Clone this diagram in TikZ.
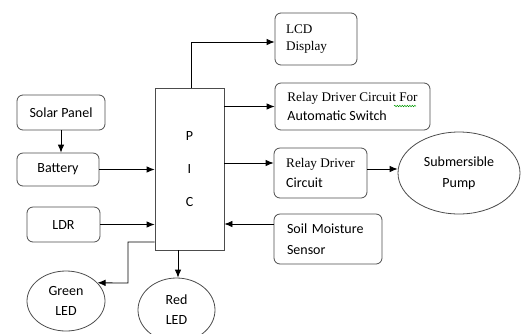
\documentclass[tikz,border=0pt]{standalone}
\usepackage{fontspec}
\setmainfont{Carlito}
\newfontfamily\serifx{Liberation Serif}
\newcommand\sr{\serifx\fontsize{13.2}{20}\selectfont}
\usetikzlibrary{arrows.meta,shapes.geometric,decorations.pathmorphing}
\begin{document}
\begin{tikzpicture}[x=1pt,y=-1pt,
  every node/.style={font=\fontsize{14}{20}\selectfont},
  line/.style={draw=black, line width=0.8pt},
  arr/.style={line, -{Latex[length=8pt,width=6.5pt]}},
  rbox/.style={draw=black!70, line width=0.8pt, rounded corners=6pt, inner ysep=0pt},
  sqbox/.style={draw=black!70, line width=0.8pt, inner sep=0pt},
  oval/.style={draw=black!70, line width=0.8pt, ellipse, inner sep=0pt, align=center},
]
\useasboundingbox (0,0) rectangle (521,333);

% left blocks
\node[rbox, minimum width=88pt, minimum height=35pt, align=center] (solar) at (61,112.5) {Solar Panel};
\node[rbox, minimum width=82pt, minimum height=33pt] (battery) at (58,169.5) {Battery};
\node[rbox, minimum width=73pt, minimum height=35pt] (ldr) at (63.5,224.5) {LDR};

% controller
\node[sqbox, minimum width=69pt, minimum height=162pt, align=center, font=\fontsize{14}{33}\selectfont] (pic) at (189.5,169) {P\\I\\C};

% right blocks
\node[rbox, text width=60pt, inner xsep=11pt, minimum height=52pt, align=left, font=\fontsize{14}{17}\selectfont] (lcd) at (316,39) {{\sr LCD}\\{\sr Display}};
\node[rbox, minimum width=155pt, minimum height=47pt, align=left, font=\fontsize{14}{19}\selectfont] (relay1) at (352.5,106.5) {{\sr Relay Driver Circuit For}\\Automatic Switch};
\node[rbox, minimum width=93pt, minimum height=50pt, align=left] (relay2) at (320.5,173) {{\sr Relay Driver}\\Circuit};
\node[rbox, text width=82pt, inner xsep=13pt, minimum height=50pt, align=left, font=\fontsize{14}{21}\selectfont] (soil) at (328,239) {Soil Moisture\\Sensor};

% ovals
\node[oval, minimum width=122pt, minimum height=82pt, font=\fontsize{14}{21}\selectfont] (pump) at (459,173) {Submersible\\Pump};
\node[oval, minimum width=78pt, minimum height=60pt] (green) at (66,301) {Green\\LED};
\node[oval, minimum width=77pt, minimum height=64pt] (red) at (176.5,310) {Red\\LED};

% spell-check squiggle under "For"
\draw[green!60!black, line width=0.5pt, decorate, decoration={snake, amplitude=0.7pt, segment length=2.5pt}] (394,106) -- (416,106);

% connectors
\draw[arr] (solar.south) -- (solar.south |- battery.north);
\draw[arr] (battery.east) -- (battery.east -| pic.west);
\draw[arr] (ldr.east) -- (ldr.east -| pic.west);
\draw[arr] ([xshift=1.5pt]pic.north) |- ([yshift=-3pt]lcd.west);
\draw[arr] (pic.east |- relay1.west) -- (relay1.west);
\draw[arr] ([yshift=10pt]relay2.west -| pic.east) -- ([yshift=10pt]relay2.west);
\draw[arr] ([yshift=4pt]relay2.east) -- ([yshift=4pt]relay2.east -| pump.west);
\draw[arr] ([yshift=15pt]soil.west) -- ([yshift=15pt]soil.west -| pic.east);
\coordinate (gturn) at (128,283);
\draw[arr] ([yshift=-73pt]pic.west) -| (gturn) -- (green.30);
\draw[arr] ([xshift=1.5pt]red.north |- pic.south) -- ([xshift=1.5pt]red.north);
\end{tikzpicture}
\end{document}
